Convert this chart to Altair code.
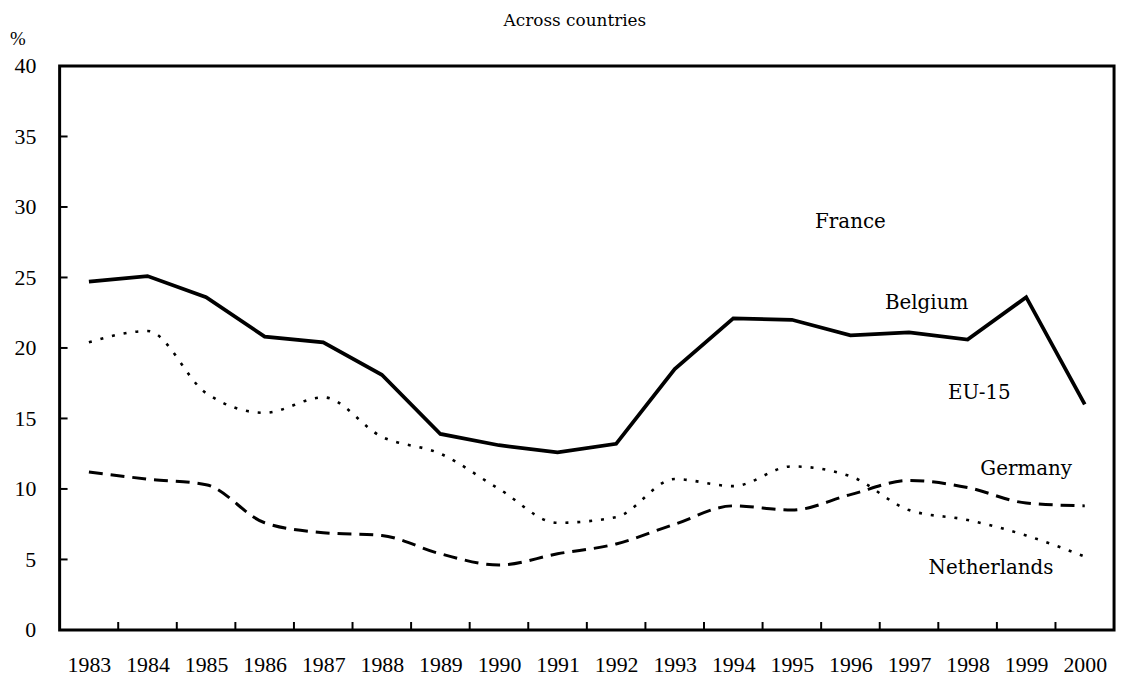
import altair as alt
import pandas as pd

years = list(range(1983, 2001))
solid_vals = [24.7, 25.1, 23.6, 20.8, 20.4, 18.1, 13.9, 13.1, 12.6, 13.2,
              18.5, 22.1, 22.0, 20.9, 21.1, 20.6, 23.6, 16.0]
dotted_vals = [20.4, 21.2, 16.8, 15.4, 16.5, 13.7, 12.5, 10.0, 7.6, 8.0,
               10.7, 10.2, 11.6, 10.9, 8.5, 7.8, 6.7, 5.2]
dashed_vals = [11.2, 10.7, 10.3, 7.6, 6.9, 6.7, 5.4, 4.6, 5.4, 6.1,
               7.5, 8.8, 8.5, 9.6, 10.6, 10.1, 9.0, 8.8]

label_names = ["France", "Belgium", "EU-15", "Germany", "Netherlands"]
label_x = [1996.0, 1997.3, 1998.2, 1999.0, 1998.4]
label_y = [28.9, 23.2, 16.8, 11.4, 4.4]

y_ticks = [0, 5, 10, 15, 20, 25, 30, 35, 40]
x_tick_marks = [y + 0.5 for y in years[:-1]]

W, H = 1062, 568
SERIF = "Liberation Serif"

solid_df = pd.DataFrame({"year": years, "value": solid_vals})
dotted_df = pd.DataFrame({"year": years, "value": dotted_vals})
dashed_df = pd.DataFrame({"year": years, "value": dashed_vals})
labels_df = pd.DataFrame({"name": label_names, "x": label_x, "y": label_y})
xt_df = pd.DataFrame({"x": x_tick_marks})
yt_df = pd.DataFrame({"y": y_ticks[1:-1]})

xscale = alt.Scale(domain=[1982.5, 2000.5], nice=False, zero=False)
yscale = alt.Scale(domain=[0, 40], nice=False)

xaxis = alt.Axis(values=years, format="d", title=None, ticks=False, domain=False,
                 grid=False, labelFont=SERIF, labelFontSize=22, labelColor="black",
                 labelPadding=42, labelBaseline="alphabetic", labelFlush=False)
yaxis = alt.Axis(values=y_ticks, title=None, ticks=False, domain=False, grid=False,
                 labelFont=SERIF, labelFontSize=22, labelColor="black",
                 labelPadding=24)

solid = alt.Chart(solid_df).mark_line(color="black", strokeWidth=3.8).encode(
    x=alt.X("year:Q", scale=xscale, axis=xaxis),
    y=alt.Y("value:Q", scale=yscale, axis=yaxis),
)
dotted = alt.Chart(dotted_df).mark_line(color="black", strokeWidth=2.6,
                                        strokeDash=[3, 9], interpolate="monotone").encode(
    x=alt.X("year:Q", scale=xscale), y=alt.Y("value:Q", scale=yscale))
dashed = alt.Chart(dashed_df).mark_line(color="black", strokeWidth=3,
                                        strokeDash=[14, 8], interpolate="monotone").encode(
    x=alt.X("year:Q", scale=xscale), y=alt.Y("value:Q", scale=yscale))

texts = alt.Chart(labels_df).mark_text(font="DejaVu Serif", fontSize=20,
                                       color="black").encode(
    x=alt.X("x:Q", scale=xscale), y=alt.Y("y:Q", scale=yscale), text="name:N")

xticks = alt.Chart(xt_df).mark_rule(color="black", strokeWidth=2).encode(
    x=alt.X("x:Q", scale=xscale), y=alt.value(H), y2=alt.value(H - 8))
yticks = alt.Chart(yt_df).mark_rule(color="black", strokeWidth=2).encode(
    y=alt.Y("y:Q", scale=yscale), x=alt.value(0), x2=alt.value(8))

pct = alt.Chart(pd.DataFrame({"t": ["%"]})).mark_text(
    font=SERIF, fontSize=19, color="black", align="center", baseline="middle").encode(
    x=alt.value(-42), y=alt.value(-27), text="t:N")

title = alt.Chart(pd.DataFrame({"t": ["Across countries"]})).mark_text(
    font="DejaVu Serif", fontSize=17, color="black", align="center",
    baseline="middle").encode(
    x=alt.value(519), y=alt.value(-45), text="t:N")

chart = alt.layer(solid, dotted, dashed, texts, xticks, yticks, pct, title).properties(
    width=W, height=H,
    autosize=alt.AutoSizeParams(type="none"),
    padding={"left": 52, "top": 56, "right": 7, "bottom": 45},
).configure(background="white").configure_view(stroke="black", strokeWidth=3)

chart.save("out.html", embed_options={"renderer": "svg", "actions": False})
